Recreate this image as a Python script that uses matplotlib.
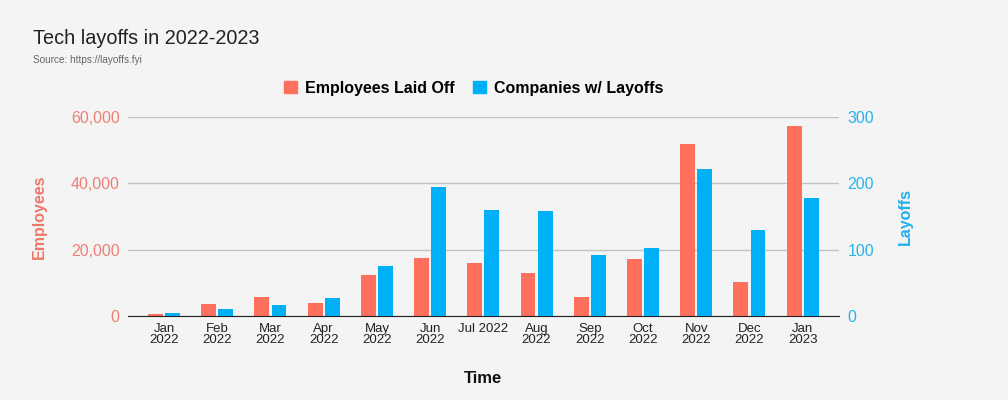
import numpy as np
import matplotlib.pyplot as plt
from matplotlib.ticker import FuncFormatter

plt.rcParams['font.family'] = ['Liberation Sans', 'DejaVu Sans']

months = ['Jan\n2022', 'Feb\n2022', 'Mar\n2022', 'Apr\n2022', 'May\n2022', 'Jun\n2022',
          'Jul 2022', 'Aug\n2022', 'Sep\n2022', 'Oct\n2022', 'Nov\n2022', 'Dec\n2022',
          'Jan\n2023']
employees = [600, 3600, 5700, 3900, 12400, 17500, 16000, 13000, 5700, 17200, 51900, 10200, 57300]
companies = [5, 11, 17, 27, 75, 195, 160, 158, 92, 102, 222, 130, 178]

RED = '#ff6f5e'
BLUE = '#00b0f6'
BG = '#f4f4f4'

fig = plt.figure(figsize=(10.08, 4.0), dpi=100, facecolor=BG)
ax = fig.add_axes([0.127, 0.21, 0.705, 0.4975])
ax.set_facecolor(BG)
ax2 = ax.twinx()

x = np.arange(len(months))
w = 0.28
ax.bar(x - 0.16, employees, width=w, color=RED, zorder=3)
ax2.bar(x + 0.16, companies, width=w, color=BLUE, zorder=3)

ax.set_xlim(-0.676, len(months) - 1 + 0.676)
ax.set_ylim(0, 60000)
ax2.set_ylim(0, 300)
ax.set_yticks([0, 20000, 40000, 60000])
ax2.set_yticks([0, 100, 200, 300])
ax.yaxis.set_major_formatter(FuncFormatter(lambda v, p: '{:,.0f}'.format(v)))
ax.grid(axis='y', color='#c2c2c2', linewidth=1, zorder=0)
ax.set_axisbelow(True)

for a in (ax, ax2):
    for s in a.spines.values():
        s.set_visible(False)
    a.tick_params(length=0)
ax.spines['bottom'].set_visible(True)
ax.spines['bottom'].set_color('#222222')
ax.spines['bottom'].set_zorder(5)

ax.set_xticks(x)
ax.set_xticklabels(months, fontsize=9.5, color='#222222', linespacing=0.95, va='top')
ax.tick_params(axis='x', pad=5)
ax.tick_params(axis='y', labelsize=11.5, labelcolor='#ef7f72', pad=6)
ax2.tick_params(axis='y', labelsize=11.5, labelcolor='#29b2ec', pad=6.5)

ax.set_ylabel('Employees', fontsize=11.5, fontweight='bold', color='#f0776a', labelpad=17)
ax2.set_ylabel('Layoffs', fontsize=11.5, fontweight='bold', color='#1fb0ef', labelpad=17)
ax.set_xlabel('Time', fontsize=12, fontweight='bold', color='#111111', labelpad=18)

fig.text(0.033, 0.905, 'Tech layoffs in 2022-2023', fontsize=14.3, color='#222222', va='center')
fig.text(0.033, 0.85, 'Source: https://layoffs.fyi', fontsize=7.2, color='#666666', va='center')

handles = [plt.Rectangle((0, 0), 1, 1, color=RED), plt.Rectangle((0, 0), 1, 1, color=BLUE)]
leg = fig.legend(handles, ['Employees Laid Off', 'Companies w/ Layoffs'], loc='center',
                 bbox_to_anchor=(0.47, 0.78), ncol=2, frameon=False, handlelength=0.8,
                 handleheight=0.8, handletextpad=0.5, columnspacing=1.2,
                 prop={'size': 11.5, 'weight': 'bold'})

fig.savefig('out.png', dpi=100, facecolor=BG)
